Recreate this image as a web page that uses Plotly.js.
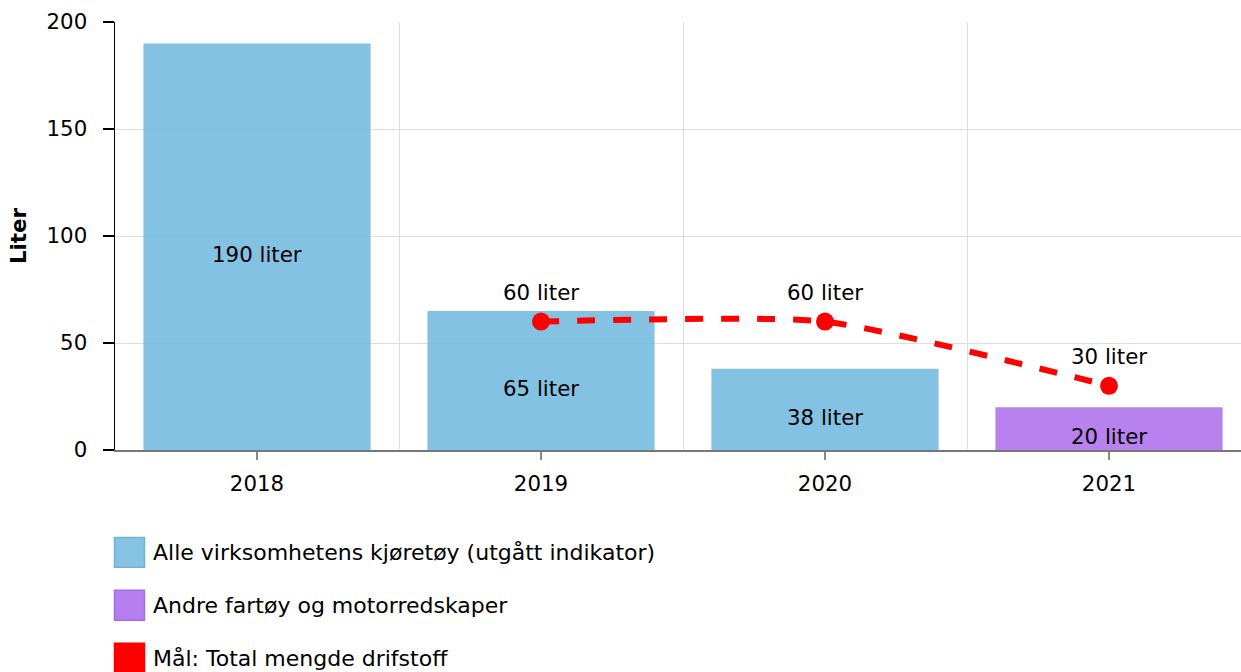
<!DOCTYPE html>
<html>
<head>
<meta charset="utf-8">
<script src="https://cdn.plot.ly/plotly-3.0.1.min.js"></script>
<style>html,body{margin:0;padding:0;background:#fff;}#chart{width:1241px;height:672px;}</style>
</head>
<body>
<div id="chart"></div>
<script>
const years = [2018, 2019, 2020, 2021];
const vehicleYears = [2018, 2019, 2020];
const vehicleValues = [190, 65, 38];
const otherYears = [2021];
const otherValues = [20];
const targetYears = [2019, 2020, 2021];
const targetValues = [60, 60, 30];
const unit = ' liter';
const seriesNames = [
  'Alle virksomhetens kjøretøy (utgått indikator)',
  'Andre fartøy og motorredskaper',
  'Mål: Total mengde drifstoff'
];
const seriesColors = ['rgb(133,194,227)', 'rgb(182,126,238)', 'rgb(255,0,0)'];
const legendBorders = ['rgb(110,178,218)', 'rgb(165,108,230)', 'rgb(255,0,0)'];

const FONT = 'DejaVu Sans, Verdana, sans-serif';
const FS = 21.33;

const traces = [
  {
    type: 'bar', x: vehicleYears, y: vehicleValues, name: seriesNames[0],
    width: 0.8, marker: {color: 'rgba(119,187,224,0.9)'},
    hoverinfo: 'skip', showlegend: false
  },
  {
    type: 'bar', x: otherYears, y: otherValues, name: seriesNames[1],
    width: 0.8, marker: {color: 'rgba(177,118,237,0.92)'},
    hoverinfo: 'skip', showlegend: false
  },
  {
    type: 'scatter', mode: 'lines+markers', x: targetYears, y: targetValues,
    name: seriesNames[2],
    line: {color: seriesColors[2], width: 6, dash: '18px,18px', shape: 'spline', smoothing: 0.55},
    marker: {color: seriesColors[2], size: 18},
    cliponaxis: false, hoverinfo: 'skip', showlegend: false
  }
];

const annotations = [];
vehicleYears.forEach((yr, i) => annotations.push({
  x: yr, y: vehicleValues[i] / 2, xref: 'x', yref: 'y', text: vehicleValues[i] + unit,
  showarrow: false, yshift: -8, font: {family: FONT, size: FS, color: '#000'}
}));
otherYears.forEach((yr, i) => annotations.push({
  x: yr, y: otherValues[i] / 2, xref: 'x', yref: 'y', text: otherValues[i] + unit,
  showarrow: false, yshift: -8, font: {family: FONT, size: FS, color: '#000'}
}));
targetYears.forEach((yr, i) => annotations.push({
  x: yr, y: targetValues[i], xref: 'x', yref: 'y', text: targetValues[i] + unit,
  showarrow: false, yshift: 29, yanchor: 'middle', font: {family: FONT, size: FS, color: '#000'}
}));

const shapes = [];
const plotW = 1126, plotH = 428.5;
seriesNames.forEach((name, i) => {
  const top = 537.5 + i * 53;
  shapes.push({
    type: 'rect', xref: 'paper', yref: 'paper',
    x0: (114.5 - 115) / plotW, x1: (144.5 - 115) / plotW,
    y0: (450 - (top + 30)) / plotH, y1: (450 - top) / plotH,
    fillcolor: seriesColors[i], line: {color: legendBorders[i], width: 1.5}
  });
  annotations.push({
    xref: 'paper', yref: 'paper', x: (151 - 115) / plotW, y: (450 - (top + 15)) / plotH,
    xanchor: 'left', yanchor: 'middle', text: name, showarrow: false,
    font: {family: FONT, size: 22, color: '#000'}
  });
});

const layout = {
  width: 1241, height: 672,
  margin: {l: 115, r: 0, t: 21.5, b: 222},
  paper_bgcolor: '#fff', plot_bgcolor: '#fff',
  font: {family: FONT, size: FS, color: '#000'},
  barmode: 'overlay',
  showlegend: false,
  xaxis: {
    range: [2017.5, 2017.5 + 1126 / 284],
    tickvals: years, ticktext: years.map(String),
    showgrid: false, zeroline: false,
    showline: true, linecolor: '#777', linewidth: 1.5,
    ticks: 'outside', ticklen: 8, tickcolor: '#888', tickwidth: 1.5,
    ticklabelstandoff: 6,
    tickfont: {family: FONT, size: FS, color: '#000'},
    minor: {tick0: 2017.5, dtick: 1, showgrid: true, gridcolor: '#dddddd', gridwidth: 1, ticks: ''},
    fixedrange: true
  },
  yaxis: {
    range: [0, 200], tickvals: [0, 50, 100, 150, 200],
    showgrid: true, gridcolor: '#dddddd', gridwidth: 1, zeroline: false,
    showline: true, linecolor: '#000', linewidth: 1.5,
    ticks: 'outside', ticklen: 11, tickcolor: '#000', tickwidth: 1.5,
    ticklabelstandoff: 11,
    tickfont: {family: FONT, size: FS, color: '#000'},
    title: {text: '<b>Liter</b>', font: {family: FONT, size: FS, color: '#000'}, standoff: 14},
    fixedrange: true
  },
  shapes: shapes,
  annotations: annotations
};

Plotly.newPlot('chart', traces, layout, {displayModeBar: false, staticPlot: true});
</script>
</body>
</html>
